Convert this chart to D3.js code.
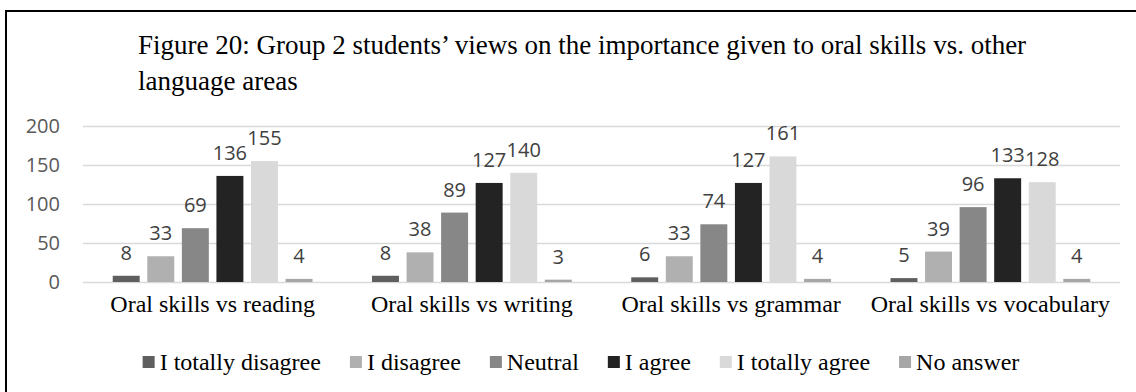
<!DOCTYPE html>
<html>
<head>
<meta charset="utf-8">
<script src="https://cdn.jsdelivr.net/npm/d3@7"></script>
<style>
  html, body { margin: 0; padding: 0; background: #fff; }
  svg { display: block; }
</style>
</head>
<body>
<svg id="chart" width="1136" height="392"></svg>
<script>
// Survey comparisons (x-axis groups)
const categories = [
  "Oral skills vs reading",
  "Oral skills vs writing",
  "Oral skills vs grammar",
  "Oral skills vs vocabulary"
];

// Answer options (one bar per option in each group)
const answers = ["I totally disagree", "I disagree", "Neutral", "I agree", "I totally agree", "No answer"];

// Number of students per answer, one array per comparison
const reading    = [8, 33, 69, 136, 155, 4];
const writing    = [8, 38, 89, 127, 140, 3];
const grammar    = [6, 33, 74, 127, 161, 4];
const vocabulary = [5, 39, 96, 133, 128, 4];

const yTicks = [0, 50, 100, 150, 200];

const titleLines = [
  "Figure 20: Group 2 students\u2019 views on the importance given to oral skills vs. other",
  "language areas"
];

const shades = ["#5f5f5f", "#b0b0b0", "#878787", "#232323", "#d9d9d9", "#a6a6a6"];

const seriesByCategory = [reading, writing, grammar, vocabulary];

const svg = d3.select("#chart");
const serif = "'Liberation Serif', 'Times New Roman', serif";
const sans = "'Open Sans', 'Noto Sans', sans-serif";

// frame around the figure
svg.append("rect")
  .attr("x", 6).attr("y", 11)
  .attr("width", 1200).attr("height", 500)
  .attr("fill", "none")
  .attr("stroke", "#000")
  .attr("stroke-width", 2);

// title
svg.append("g")
  .selectAll("text")
  .data(titleLines)
  .join("text")
  .attr("x", 138)
  .attr("y", (d, i) => 54 + i * 36)
  .attr("font-family", serif)
  .attr("font-size", 27)
  .attr("fill", "#000")
  .text(d => d);

const plot = { left: 83, right: 1120, top: 126, bottom: 282 };

const x0 = d3.scaleBand()
  .domain(categories)
  .range([plot.left, plot.right])
  .paddingInner(0)
  .paddingOuter(0);

const x1 = d3.scaleBand()
  .domain(answers)
  .range([0, x0.bandwidth()])
  .paddingInner(0.22)
  .paddingOuter(0.86);

const y = d3.scaleLinear()
  .domain([0, 200])
  .range([plot.bottom, plot.top]);

const color = d3.scaleOrdinal().domain(answers).range(shades);

// horizontal gridlines and value axis
const yAxis = d3.axisLeft(y)
  .tickValues(yTicks)
  .tickSize(-(plot.right - plot.left))
  .tickPadding(23);

const gy = svg.append("g")
  .attr("transform", `translate(${plot.left},0)`)
  .call(yAxis);
gy.select(".domain").remove();
gy.selectAll(".tick line")
  .attr("stroke", "#d9d9d9")
  .attr("stroke-width", 1.5);
gy.selectAll(".tick text")
  .attr("font-family", sans)
  .attr("font-size", 20)
  .attr("fill", "#595959");

// category axis labels
const xAxis = d3.axisBottom(x0).tickSize(0).tickPadding(13);
const gx = svg.append("g")
  .attr("transform", `translate(0,${plot.bottom})`)
  .call(xAxis);
gx.select(".domain").remove();
gx.selectAll(".tick text")
  .attr("font-family", serif)
  .attr("font-size", 24)
  .attr("fill", "#000");

// bars
const groups = svg.append("g")
  .selectAll("g")
  .data(categories.map((c, i) => ({ category: c, values: seriesByCategory[i] })))
  .join("g")
  .attr("transform", d => `translate(${x0(d.category)},0)`);

const cells = d => d.values.map((v, j) => ({ answer: answers[j], value: v }));

groups.selectAll("rect")
  .data(cells)
  .join("rect")
  .attr("x", d => x1(d.answer))
  .attr("y", d => y(d.value))
  .attr("width", x1.bandwidth())
  .attr("height", d => y(0) - y(d.value))
  .attr("fill", d => color(d.answer));

// value labels above bars
groups.selectAll("text")
  .data(cells)
  .join("text")
  .attr("x", d => x1(d.answer) + x1.bandwidth() / 2)
  .attr("y", d => y(d.value) - 16)
  .attr("text-anchor", "middle")
  .attr("font-family", sans)
  .attr("font-size", 20)
  .attr("fill", "#404040")
  .text(d => d.value);

// legend
const legend = svg.append("g");
const legendBase = 370;
const sw = 12;
const items = legend.selectAll("g")
  .data(answers)
  .join("g");
items.append("rect")
  .attr("width", sw).attr("height", sw)
  .attr("y", legendBase - 14)
  .attr("fill", d => color(d));
items.append("text")
  .attr("x", sw + 5)
  .attr("y", legendBase)
  .attr("font-family", serif)
  .attr("font-size", 24)
  .attr("fill", "#000")
  .text(d => d);

const gap = 29;
const widths = [];
items.each(function () {
  widths.push(sw + 5 + d3.select(this).select("text").node().getComputedTextLength());
});
const total = d3.sum(widths) + gap * (widths.length - 1);
let cx = 581 - total / 2;
items.attr("transform", (d, i) => {
  const t = `translate(${cx},0)`;
  cx += widths[i] + gap;
  return t;
});
</script>
</body>
</html>
